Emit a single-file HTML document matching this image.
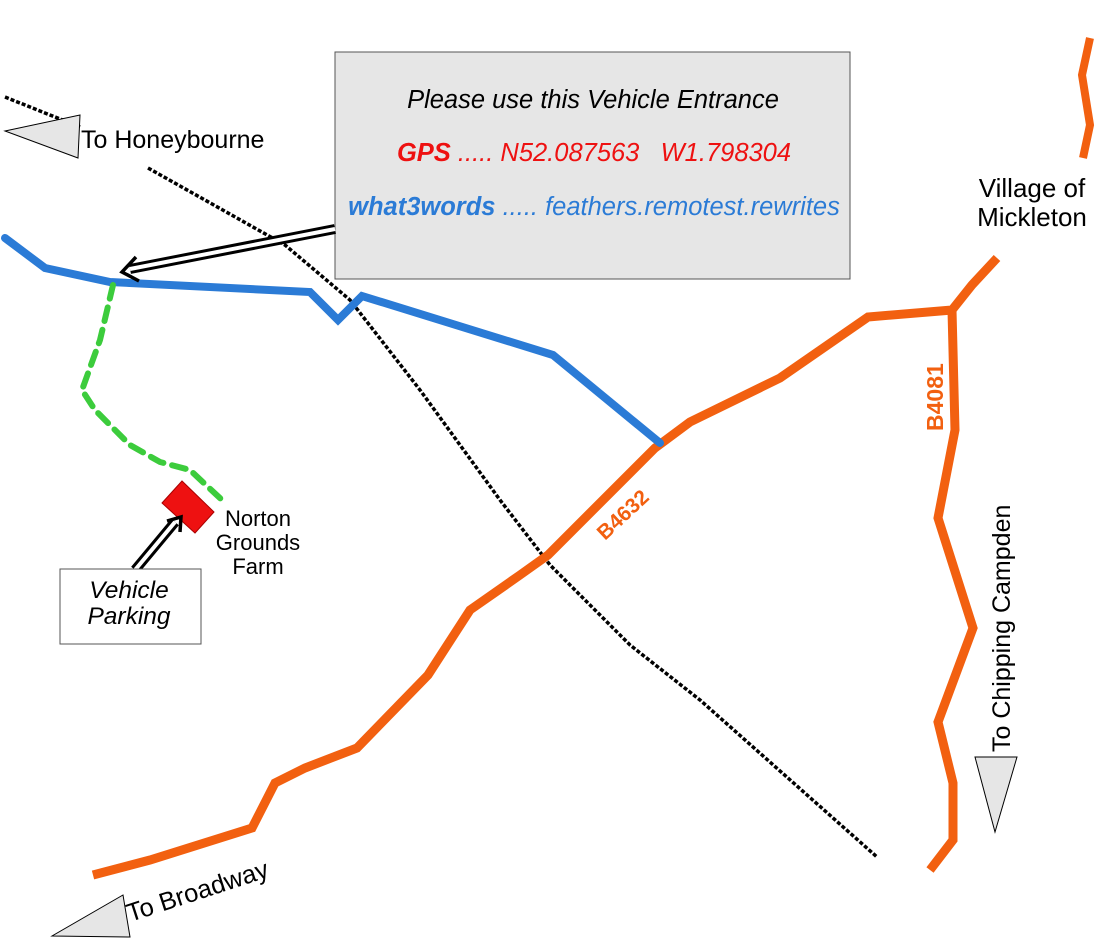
<!DOCTYPE html>
<html><head><style>
html,body{margin:0;padding:0;background:#fff;}
svg{display:block;}
text{font-family:"Liberation Sans",Arial,sans-serif;}
</style></head><body>
<svg width="1107" height="949" viewBox="0 0 1107 949" xmlns="http://www.w3.org/2000/svg">
<polyline points="5,97 80,127" fill="none" stroke="#000" stroke-width="3.5" stroke-dasharray="4,2"/>
<polyline points="148,168 285,245 350,300 420,390 500,500 550,565 630,645 700,700 877,857" fill="none" stroke="#000" stroke-width="3.5" stroke-dasharray="4,2"/>
<polyline points="93,875 150,860 252,828 275,783 305,768 357,748 428,675 470,610 520,575 548,555 655,448 690,422 780,378 868,317 952,310 972,285 997,258" fill="none" stroke="#f26010" stroke-width="9"/>
<polyline points="952,310 955,430 938,518 973,628 938,722 953,783 953,840 930,870" fill="none" stroke="#f26010" stroke-width="9"/>
<polyline points="1090,38 1082,75 1090,125 1083,158" fill="none" stroke="#f26010" stroke-width="8"/>
<polyline points="5,238 45,268 110,282 310,292 338,320 362,296 553,355 660,443" fill="none" stroke="#2b7bd6" stroke-width="8" stroke-linecap="round"/>
<polyline points="113,285 100,340 82,390 95,410 130,445 160,462 190,470 222,500" fill="none" stroke="#3ccc3c" stroke-width="6" stroke-dasharray="14,9" stroke-linecap="round"/>
<polygon points="5,131 80,115 78,158" fill="#e6e6e6" stroke="#000" stroke-width="1"/>
<polygon points="975,757 1017,757 995,832" fill="#e6e6e6" stroke="#000" stroke-width="1"/>
<polygon points="52,936 130,937 123,895" fill="#e6e6e6" stroke="#000" stroke-width="1"/>
<rect x="335" y="52" width="515" height="227" fill="#e6e6e6" stroke="#555" stroke-width="1"/>
<text x="593" y="108" text-anchor="middle" font-size="25.5" font-style="italic" fill="#000">Please use this Vehicle Entrance</text>
<text x="594" y="161" text-anchor="middle" font-size="25.5" font-style="italic" fill="#ee1111"><tspan font-weight="bold">GPS</tspan> ..... N52.087563&#160;&#160;&#160;W1.798304</text>
<text x="594" y="215" text-anchor="middle" font-size="25.5" font-style="italic" fill="#2b7bd6"><tspan font-weight="bold">what3words</tspan> ..... feathers.remotest.rewrites</text>
<line x1="335" y1="229" x2="130" y2="269" stroke="#000" stroke-width="10"/>
<line x1="335" y1="229" x2="130" y2="269" stroke="#fff" stroke-width="4"/>
<polyline points="136,257 122,272 139,281" fill="none" stroke="#000" stroke-width="3.5"/>
<polygon points="162,503 182,481 214,512 195,533" fill="#ee1111" stroke="#a00" stroke-width="1"/>
<line x1="135" y1="570" x2="175" y2="522" stroke="#000" stroke-width="10"/>
<line x1="135" y1="570" x2="175" y2="522" stroke="#fff" stroke-width="4"/>
<polyline points="167,521 181,517 180,532" fill="none" stroke="#000" stroke-width="3.5"/>
<rect x="60" y="569" width="141" height="75" fill="#fff" stroke="#555" stroke-width="1"/>
<text x="129" y="598" text-anchor="middle" font-size="24.5" font-style="italic">Vehicle</text>
<text x="129" y="624" text-anchor="middle" font-size="24.5" font-style="italic">Parking</text>
<text x="258" y="526" text-anchor="middle" font-size="22">Norton</text>
<text x="258" y="550" text-anchor="middle" font-size="22">Grounds</text>
<text x="258" y="574" text-anchor="middle" font-size="22">Farm</text>
<text x="81" y="148" font-size="25">To Honeybourne</text>
<text x="1032" y="197" text-anchor="middle" font-size="26">Village of</text>
<text x="1032" y="226" text-anchor="middle" font-size="26">Mickleton</text>
<text transform="translate(943,431) rotate(-90)" font-size="23" font-weight="bold" fill="#f26010">B4081</text>
<text transform="translate(605,541) rotate(-43)" font-size="21" font-weight="bold" fill="#f26010">B4632</text>
<text transform="translate(1010,752) rotate(-90)" font-size="25">To Chipping Campden</text>
<text transform="translate(130,922) rotate(-18)" font-size="25.5">To Broadway</text>
</svg>
</body></html>
